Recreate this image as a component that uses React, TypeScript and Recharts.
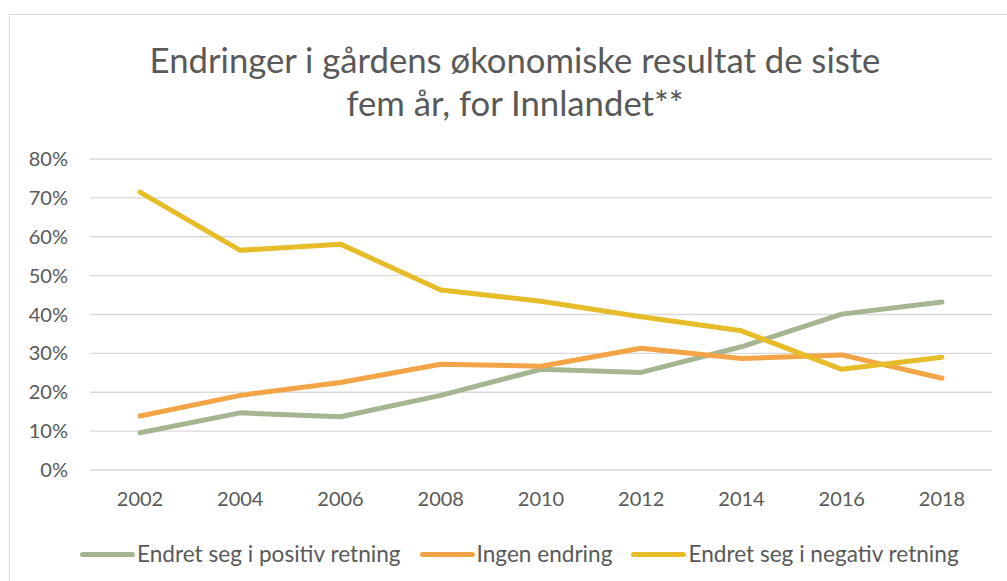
import React from 'react';
import { LineChart, Line, XAxis, YAxis, CartesianGrid } from 'recharts';

const years = ['2002', '2004', '2006', '2008', '2010', '2012', '2014', '2016', '2018'];
const positive = [0.096, 0.147, 0.137, 0.192, 0.259, 0.251, 0.317, 0.401, 0.432];
const noChange = [0.139, 0.192, 0.225, 0.272, 0.267, 0.313, 0.287, 0.296, 0.236];
const negative = [0.715, 0.565, 0.581, 0.463, 0.434, 0.394, 0.358, 0.259, 0.29];
const yTicks = [0, 0.1, 0.2, 0.3, 0.4, 0.5, 0.6, 0.7, 0.8];

const seriesNames = ['Endret seg i positiv retning', 'Ingen endring', 'Endret seg i negativ retning'];
const seriesKeys = ['positive', 'noChange', 'negative'];
const seriesColors = ['#A5B592', '#F3A447', '#E7BC29'];

const titleLines = ['Endringer i gårdens økonomiske resultat de siste', 'fem år, for Innlandet**'];

const data = years.map((y, i) => ({
  year: y,
  positive: positive[i],
  noChange: noChange[i],
  negative: negative[i],
}));

const W = 1012;
const H = 580;
const TEXT = '#595959';
const FONT = 'Lato, sans-serif';

export default function App() {
  return (
    <div
      style={{
        position: 'absolute',
        left: 9,
        top: 14,
        width: W,
        height: H,
        boxSizing: 'border-box',
        border: '1px solid #D9D9D9',
        background: '#fff',
        fontFamily: FONT,
      }}
    >
      <div style={{ position: 'absolute', left: -1, top: -1 }}>
        <LineChart width={W} height={H} data={data} margin={{ top: 145, right: 29, bottom: 94, left: 0 }}>
          <CartesianGrid vertical={false} stroke="#D9D9D9" strokeWidth={1.3} />
          <XAxis
            dataKey="year"
            axisLine={false}
            tickLine={false}
            tickSize={0}
            tickMargin={22}
            padding={{ left: 50, right: 50 }}
            tick={{ fill: TEXT, fontSize: 20, fontFamily: FONT }}
            interval={0}
          />
          <YAxis
            width={81}
            domain={[0, 0.8]}
            ticks={yTicks}
            axisLine={false}
            tickLine={false}
            tickSize={0}
            tickMargin={22}
            tickFormatter={(v: number) => `${Math.round(v * 100)}%`}
            tick={{ fill: TEXT, fontSize: 20, fontFamily: FONT }}
          />
          {seriesKeys.map((k, i) => (
            <Line
              key={k}
              type="linear"
              dataKey={k}
              name={seriesNames[i]}
              stroke={seriesColors[i]}
              strokeWidth={5}
              strokeLinecap="round"
              strokeLinejoin="round"
              dot={false}
              activeDot={false}
              isAnimationActive={false}
            />
          ))}
        </LineChart>
      </div>
      <div
        style={{
          position: 'absolute',
          left: 0,
          top: 23,
          width: W - 2,
          textAlign: 'center',
          color: TEXT,
          fontSize: 34.7,
          lineHeight: '43px',
        }}
      >
        {titleLines.map((t) => (
          <div key={t}>{t}</div>
        ))}
      </div>
      <div
        style={{
          position: 'absolute',
          left: 70,
          top: 524,
          display: 'flex',
          alignItems: 'center',
          color: TEXT,
          fontSize: 22.6,
          lineHeight: '30px',
          whiteSpace: 'nowrap',
        }}
      >
        {seriesNames.map((n, i) => (
          <div key={n} style={{ display: 'flex', alignItems: 'center', marginRight: 19 }}>
            <div
              style={{
                width: 55,
                height: 5,
                borderRadius: 3,
                background: seriesColors[i],
                marginRight: 2,
              }}
            />
            <span>{n}</span>
          </div>
        ))}
      </div>
    </div>
  );
}
